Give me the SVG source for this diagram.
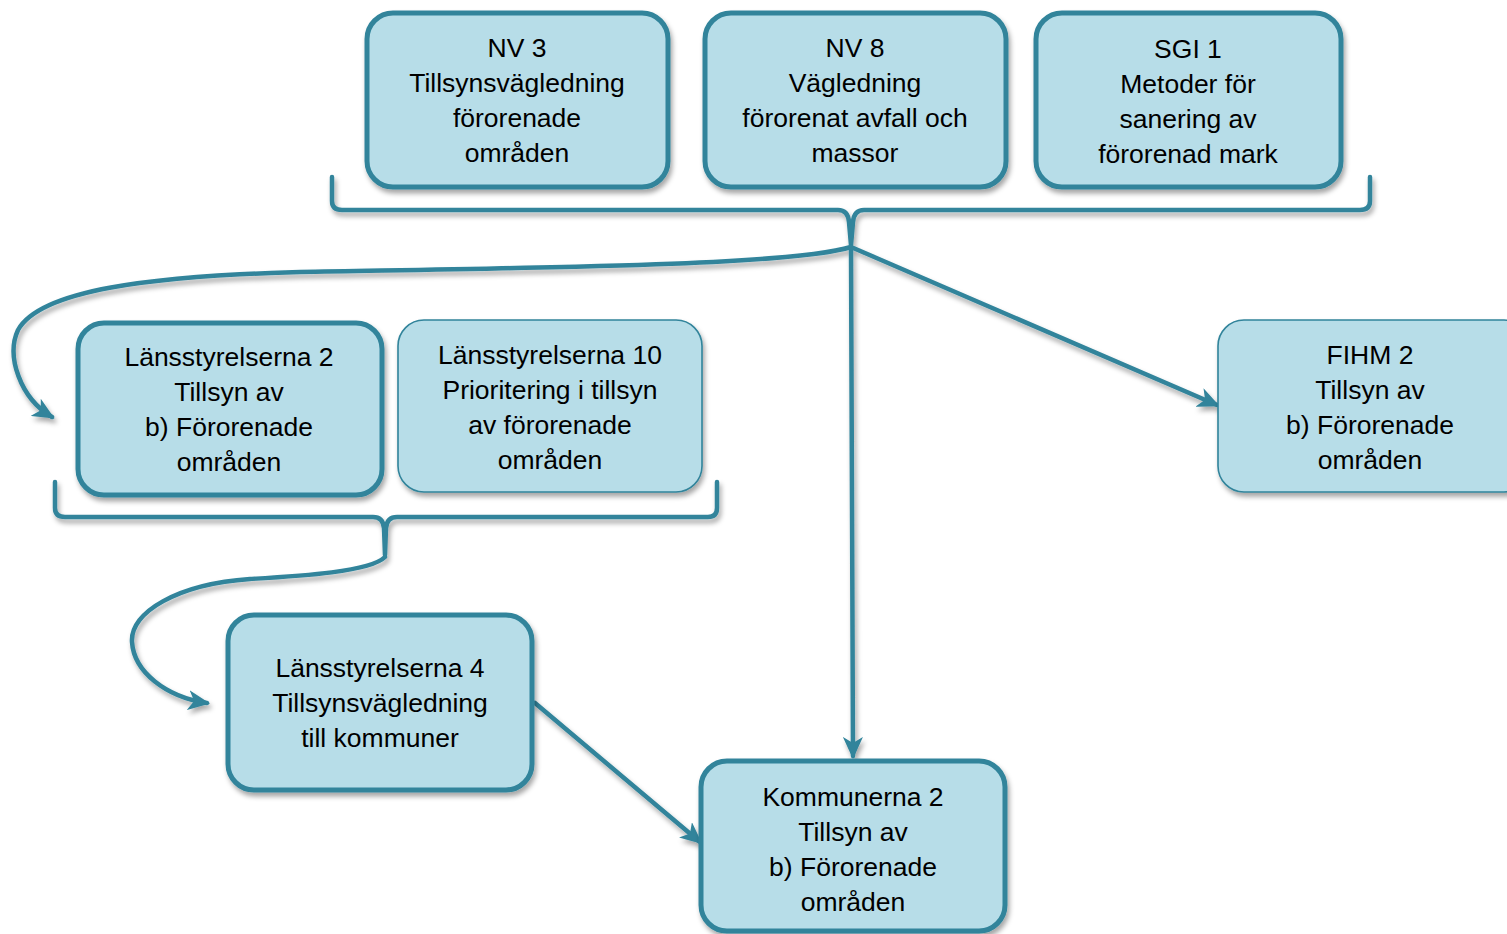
<svg xmlns="http://www.w3.org/2000/svg" width="1507" height="934" viewBox="0 0 1507 934">
<style>
.box{fill:#B7DDE8;stroke:#31849B;stroke-width:5}
.thin{fill:#B7DDE8;stroke:#31849B;stroke-width:1.6}
.lbl{font-family:"Liberation Sans",Arial,sans-serif;font-size:26.5px;fill:#000;text-anchor:middle}
.con{fill:none;stroke:#31849B;stroke-width:4.5;stroke-linecap:round;stroke-linejoin:round}
</style>
<defs>
<filter id="sh" x="-10%" y="-10%" width="125%" height="130%">
<feDropShadow dx="2" dy="4" stdDeviation="2.5" flood-color="#000" flood-opacity="0.35"/>
</filter>
<marker id="ah" markerUnits="userSpaceOnUse" markerWidth="24" markerHeight="20" refX="19" refY="10" orient="auto">
<path d="M0,0 L22,10 L0,20 L6,10 Z" fill="#31849B"/>
</marker>
</defs>
<rect width="1507" height="934" fill="#fff"/>

<g id="connectors" filter="url(#sh)">
<path class="con" d="M332,177 L332,201 Q332,210 342,210 L838,210 Q848,210 849,222 L851,245 L853,222 Q854,210 864,210 L1360,210 Q1370,210 1370,201 L1370,177"/>
<path class="con" d="M55,482 L55,508 Q55,517 65,517 L373,517 Q383,517 384,528 L385,555 L386,528 Q387,517 397,517 L708,517 Q717,517 717,508 L717,482"/>
<path class="con" marker-end="url(#ah)" d="M851,247 C 790,266 520,268 300,272 C 150,276 40,290 18,330 C 6,356 20,398 52,417"/>
<path class="con" marker-end="url(#ah)" d="M851,247 L853,756"/>
<path class="con" marker-end="url(#ah)" d="M851,247 L1217,405"/>
<path class="con" marker-end="url(#ah)" d="M385,557 C 370,572 300,576 250,579 C 178,584 130,612 132,642 C 134,672 166,697 207,703"/>
<path class="con" marker-end="url(#ah)" d="M535,703 L700,842"/>
</g>

<g id="nv3">
<rect class="box" filter="url(#sh)" x="367" y="13" width="301" height="174" rx="26"/>
<text class="lbl" x="517" y="57">NV 3</text>
<text class="lbl" x="517" y="92">Tillsynsvägledning</text>
<text class="lbl" x="517" y="127">förorenade</text>
<text class="lbl" x="517" y="162">områden</text>
</g>

<g id="nv8">
<rect class="box" filter="url(#sh)" x="705" y="13" width="301" height="174" rx="26"/>
<text class="lbl" x="855" y="57">NV 8</text>
<text class="lbl" x="855" y="92">Vägledning</text>
<text class="lbl" x="855" y="127">förorenat avfall och</text>
<text class="lbl" x="855" y="162">massor</text>
</g>

<g id="sgi1">
<rect class="box" filter="url(#sh)" x="1036" y="13" width="305" height="174" rx="26"/>
<text class="lbl" x="1188" y="58">SGI 1</text>
<text class="lbl" x="1188" y="93">Metoder för</text>
<text class="lbl" x="1188" y="128">sanering av</text>
<text class="lbl" x="1188" y="163">förorenad mark</text>
</g>

<g id="lst2">
<rect class="box" filter="url(#sh)" x="78" y="323" width="304" height="172" rx="26"/>
<text class="lbl" x="229" y="366">Länsstyrelserna 2</text>
<text class="lbl" x="229" y="401">Tillsyn av</text>
<text class="lbl" x="229" y="436">b) Förorenade</text>
<text class="lbl" x="229" y="471">områden</text>
</g>

<g id="lst10">
<rect class="thin" filter="url(#sh)" x="398" y="320" width="304" height="172" rx="26"/>
<text class="lbl" x="550" y="364">Länsstyrelserna 10</text>
<text class="lbl" x="550" y="399">Prioritering i tillsyn</text>
<text class="lbl" x="550" y="434">av förorenade</text>
<text class="lbl" x="550" y="469">områden</text>
</g>

<g id="fihm2">
<rect class="thin" filter="url(#sh)" x="1218" y="320" width="312" height="172" rx="26"/>
<text class="lbl" x="1370" y="364">FIHM 2</text>
<text class="lbl" x="1370" y="399">Tillsyn av</text>
<text class="lbl" x="1370" y="434">b) Förorenade</text>
<text class="lbl" x="1370" y="469">områden</text>
</g>

<g id="lst4">
<rect class="box" filter="url(#sh)" x="228" y="615" width="304" height="175" rx="26"/>
<text class="lbl" x="380" y="677">Länsstyrelserna 4</text>
<text class="lbl" x="380" y="712">Tillsynsvägledning</text>
<text class="lbl" x="380" y="747">till kommuner</text>
</g>

<g id="kommunerna2">
<rect class="box" filter="url(#sh)" x="701" y="761" width="304" height="170" rx="26"/>
<text class="lbl" x="853" y="806">Kommunerna 2</text>
<text class="lbl" x="853" y="841">Tillsyn av</text>
<text class="lbl" x="853" y="876">b) Förorenade</text>
<text class="lbl" x="853" y="911">områden</text>
</g>
</svg>
